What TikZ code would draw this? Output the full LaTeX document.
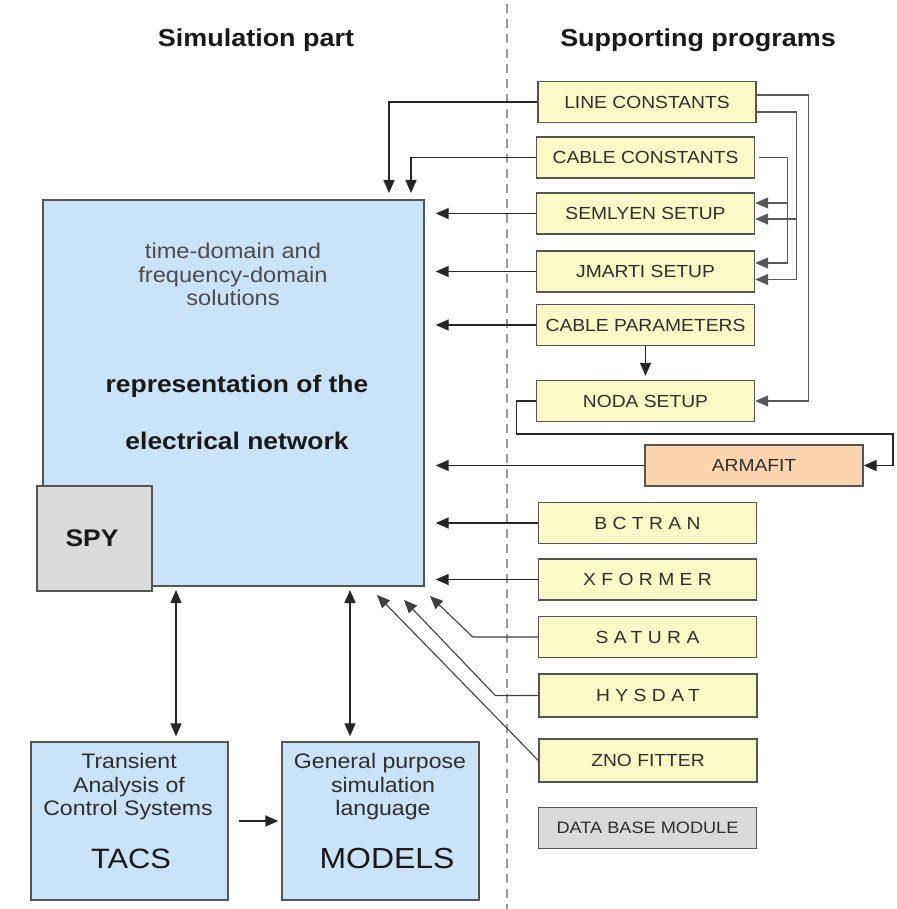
\documentclass[tikz,border=0pt]{standalone}
\usepackage{fontspec}
\setmainfont{Liberation Sans}[FakeStretch=1.1]
\usetikzlibrary{arrows.meta,calc}
\definecolor{yel}{HTML}{FAFAC6}
\definecolor{peach}{HTML}{FBD5B0}
\definecolor{blu}{HTML}{C9E3F9}
\definecolor{grayf}{HTML}{DADADA}
\definecolor{bord}{HTML}{555555}
\definecolor{txt}{HTML}{2E2E2E}
\definecolor{sepc}{HTML}{9A9A9A}
\newcommand\myfs[2]{\fontsize{#1}{#2}\selectfont}
\tikzset{
  prog/.style={draw=bord, fill=yel, line width=1.4pt, inner sep=0pt,
    minimum width=218pt, minimum height=41pt, text=txt, font=\myfs{17.5}{20}},
  spaced/.style={font=\myfs{17.5}{20}\addfontfeature{LetterSpace=31}},
  bluebox/.style={draw=bord, fill=blu, line width=1.4pt, inner sep=0pt},
  title/.style={font=\myfs{24.5}{28}\bfseries, text=black!90, inner sep=0pt},
  plain/.style={inner sep=0pt, text=txt},
  tip/.style={-{Triangle[length=13pt,width=11pt]}},
  arr/.style={tip, line width=1.5pt, draw=black!85},
  darr/.style={{Triangle[length=13pt,width=11pt]}-{Triangle[length=13pt,width=11pt]}, line width=1.5pt, draw=black!85},
  garr/.style={tip, line width=1.4pt, draw=black!65},
  thinarr/.style={tip, line width=1.1pt, draw=black!75},
}
\begin{document}
\begin{tikzpicture}[x=1pt,y=-1pt]
\useasboundingbox (0,0) rectangle (896,909);
\fill[white] (0,0) rectangle (896,909);
\draw[sepc, line width=2pt, dash pattern=on 9pt off 6pt] (507,4) -- (507,909);

% titles
\node[title, anchor=base] (t1) at (256,47) {Simulation part};
\node[title, anchor=base] (t2) at (698,47) {Supporting programs};

% main block
\node[bluebox, minimum width=381pt, minimum height=386pt] (main) at (233.5,393) {};
\node[plain, anchor=base, text=black!70, font=\myfs{21.5}{23.5}] (m1) at (233,258) {time-domain and};
\node[plain, anchor=base, text=black!70, font=\myfs{21.5}{23.5}] (m2) at (233,282) {frequency-domain};
\node[plain, anchor=base, text=black!70, font=\myfs{21.5}{23.5}] (m3) at (233,305) {solutions};
\node[plain, anchor=base, text=black!90, font=\myfs{24}{28}\bfseries] (m4) at (237,392) {representation of the};
\node[plain, anchor=base, text=black!90, font=\myfs{24}{28}\bfseries] (m5) at (237,449) {electrical network};
\node[draw=bord, fill=grayf, line width=1.4pt, minimum width=115pt, minimum height=105pt, inner sep=0pt] (spy) at (94.5,538.5) {};
\node[plain, anchor=base, text=black!90, font=\myfs{24}{28}\bfseries] (spyt) at (92,546) {SPY};

% TACS / MODELS
\node[bluebox, minimum width=197pt, minimum height=158pt] (tacs) at (129.5,821) {};
\node[plain, anchor=base, font=\myfs{21}{23.5}] (ta1) at (129,768) {Transient};
\node[plain, anchor=base, font=\myfs{21}{23.5}] (ta2) at (129,792) {Analysis of};
\node[plain, anchor=base, font=\myfs{21}{23.5}] (ta3) at (128,815) {Control Systems};
\node[plain, anchor=base, text=black!90, font=\myfs{28}{32}] (ta4) at (131,868) {TACS};
\node[bluebox, minimum width=197pt, minimum height=158pt] (models) at (380.5,821) {};
\node[plain, anchor=base, font=\myfs{21}{23.5}] (mo1) at (380,768) {General purpose};
\node[plain, anchor=base, font=\myfs{21}{23.5}] (mo2) at (383,792) {simulation};
\node[plain, anchor=base, font=\myfs{21}{23.5}] (mo3) at (383,815) {language};
\node[plain, anchor=base, text=black!90, font=\myfs{29}{32}] (mo4) at (387,868) {MODELS};

% supporting programs
\node[prog] (lc) at (647,102) {LINE CONSTANTS};
\node[prog] (cc) at (645.5,157.5) {CABLE CONSTANTS};
\node[prog] (sem) at (645.5,213.5) {SEMLYEN SETUP};
\node[prog] (jm) at (645.5,271.5) {JMARTI SETUP};
\node[prog] (cp) at (645.5,325) {CABLE PARAMETERS};
\node[prog] (noda) at (645.5,401) {NODA SETUP};
\node[prog, fill=peach] (arma) at (754,465.5) {ARMAFIT};
\node[prog, spaced] (bct) at (647.5,523) {BCTRAN};
\node[prog, spaced] (xf) at (647.5,579.5) {XFORMER};
\node[prog, spaced] (sat) at (647.5,637) {SATURA};
\node[prog, spaced, minimum height=43pt] (hys) at (648,695.5) {HYSDAT};
\node[prog, minimum height=43pt] (zno) at (648,760.5) {ZNO FITTER};
\node[prog, fill=grayf, font=\myfs{16.5}{20}] (db) at (647.5,828) {DATA BASE MODULE};

% arrows into the main block
\coordinate (in1) at (389,200);
\coordinate (in2) at (411,200);
\draw[arr, shorten >=7pt] (lc.west) -| (in1);
\draw[arr, shorten >=7pt] (cc.west) -| (in2);
\foreach \n in {sem,jm,cp,arma,bct,xf}
  \draw[arr, shorten >=11pt] (\n.west) -- (\n.west -| main.east);
\coordinate (d1) at (430,596);
\coordinate (d2) at (404,600);
\coordinate (d3) at (377,595);
\draw[thinarr] (sat.west) -- ++(-65,0) -- (d1);
\draw[thinarr] (hys.west) -- ++(-43,0) -- (d2);
\draw[thinarr] (zno.west) -- (d3);

% right-side routing
\coordinate (s1) at ($(sem.east)+(0,5.5)$);
\coordinate (s2) at ($(sem.east)+(0,-10.5)$);
\coordinate (j1) at ($(jm.east)+(0,8)$);
\coordinate (j2) at ($(jm.east)+(0,-8.5)$);
\draw[garr] ($(lc.east)+(0,-7)$) -- ++(52,0) |- (noda.east);
\draw[garr] ($(lc.east)+(0,10)$) -- ++(40,0) coordinate (b1) |- (j1);
\draw[garr] (b1 |- s1) -- (s1);
\draw[garr] ($(cc.east)+(4,0)$) -- ++(28,0) coordinate (b2) |- (j2);
\draw[garr] (b2 |- s2) -- (s2);
\draw[arr, shorten >=4pt] (cp.south) -- (noda.north);
\coordinate (ar) at (893,434);
\draw[arr, line width=1.2pt] (noda.west) -- ++(-19,0) |- (ar) |- (arma.east);

% vertical links and TACS -> MODELS
\coordinate (da1) at (176,586);
\coordinate (da2) at (350,586);
\draw[darr, shorten <=4pt, shorten >=5pt] (da1) -- (da1 |- tacs.north);
\draw[darr, shorten <=4pt, shorten >=5pt] (da2) -- (da2 |- models.north);
\draw[arr, shorten <=10pt, shorten >=3pt] (tacs.east) -- (models.west);
\end{tikzpicture}
\end{document}
